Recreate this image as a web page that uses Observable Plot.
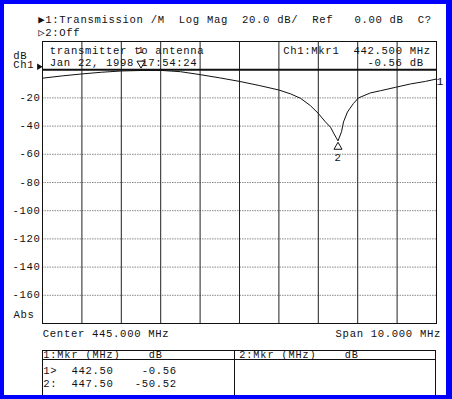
<!DOCTYPE html>
<html>
<head>
<meta charset="utf-8">
<script src="https://cdn.jsdelivr.net/npm/d3@7"></script>
<script src="https://cdn.jsdelivr.net/npm/@observablehq/plot@0.6"></script>
<style>
  html, body { margin: 0; padding: 0; width: 452px; height: 399px; overflow: hidden; background: #0000ff; }
  #panel { position: absolute; left: 4px; top: 4px; width: 442px; height: 391px; background: #fff; overflow: hidden; }
  #panel svg text { white-space: pre; letter-spacing: 0.67px; }
  .mono { position: absolute; font-family: "Liberation Mono", "DejaVu Sans Mono", monospace; font-size: 10.6px; letter-spacing: 0.67px; line-height: 12px; white-space: pre; color: #111; }
  .mono.small { font-size: 10.2px; letter-spacing: 0.91px; }
  .line { position: absolute; background: #111; }
</style>
</head>
<body>
<div id="panel"></div>
<script>
// ---- data ----
const freqMHz = [440.0, 440.5, 441.0, 441.5, 442.0, 442.5, 443.0, 443.5, 444.0, 444.5, 445.0, 445.5, 446.0, 446.3, 446.55, 446.8, 447.0, 447.18, 447.31, 447.4, 447.5, 447.59, 447.64, 447.74, 447.89, 448.02, 448.32, 448.58, 448.96, 449.34, 449.72, 450.0];
const gainDb  = [-6.0, -4.4, -3.0, -1.8, -0.9, -0.56, -0.5, -1.4, -3.5, -5.8, -8.3, -11.2, -14.4, -17.2, -20.3, -25.5, -31, -37, -40.8, -45.5, -50.52, -44, -37, -30, -24, -20, -16.5, -14.9, -12.5, -10.1, -8.3, -6.6];

const gridMHz = [441, 442, 443, 444, 445, 446, 447, 448, 449];
const gridDb = [-20, -40, -60, -80, -100, -120, -140, -160];
const tickDb = [-20, -40, -60, -80, -100, -120, -140, -160];
const refDb = [0];

const markerId = [1, 2];
const markerMHz = [442.5, 447.5];
const markerDb = [-0.56, -50.52];

const statusLines = ["▶1:Transmission /M  Log Mag  20.0 dB/  Ref   0.00 dB  C?", "▷2:Off"];
const titleLines = ["transmitter to antenna", "Jan 22, 1998 17:54:24"];
const activeLines = ["Ch1:Mkr1  442.500 MHz", "-0.56 dB"];
const axisUnit = ["dB", "Ch1"];
const axisFoot = ["Abs"];
const footLeft = ["Center 445.000 MHz"];
const footRight = ["Span 10.000 MHz"];
const tableHeads = ["1:Mkr (MHz)    dB", "2:Mkr (MHz)    dB"];
const traceLabel = ["1"];

// ---- build ----
const mono = `"Liberation Mono", "DejaVu Sans Mono", monospace`;
const fs = 10.6;
const ink = "#111";
const T = (data, opts) => Plot.text(data, {fontFamily: mono, fontSize: fs, fill: ink, textAnchor: "start", lineAnchor: "bottom", ...opts});

const trace = freqMHz.map((f, i) => ({f, db: gainDb[i]}));
const markers = markerId.map((id, i) => ({id, f: markerMHz[i], db: markerDb[i]}));
const lastPt = [trace[trace.length - 1]];

const chart = Plot.plot({
  width: 442,
  height: 391,
  marginLeft: 38,
  marginRight: 10,
  marginTop: 37,
  marginBottom: 72,
  x: {domain: [440, 450], axis: null},
  y: {domain: [-180, 20], axis: null},
  style: {background: "transparent", overflow: "visible"},
  marks: [
    Plot.ruleY(gridDb, {y: d => d, stroke: "#8a8a8a", strokeDasharray: "1.5,1", strokeWidth: 1}),
    Plot.ruleX(gridMHz, {x: d => d, stroke: "#222", strokeWidth: 1}),
    Plot.ruleY(refDb, {y: d => d, stroke: ink, strokeWidth: 2}),
    Plot.frame({stroke: ink, strokeWidth: 1}),
    Plot.line(trace, {x: "f", y: "db", stroke: ink, strokeWidth: 1}),
    // markers
    Plot.dot(markers.filter(d => d.id === 1), {x: "f", y: "db", symbol: "triangle", rotate: 180, r: 3, stroke: ink, fill: "none", strokeWidth: 1, dy: -7}),
    Plot.dot(markers.filter(d => d.id === 2), {x: "f", y: "db", symbol: "triangle", r: 3, stroke: ink, fill: "none", strokeWidth: 1, dy: 6}),
    T(markers.filter(d => d.id === 1), {x: "f", y: "db", text: d => String(d.id), textAnchor: "middle", fontSize: 9.5, dy: -17}),
    T(markers.filter(d => d.id === 2), {x: "f", y: "db", text: d => String(d.id), textAnchor: "middle", dy: 20}),
    T(lastPt, {x: "f", y: "db", text: () => traceLabel[0], lineAnchor: "middle", fontSize: 11.5, dx: 0, dy: 2}),
    // y tick labels
    T(tickDb, {y: d => d, frameAnchor: "left", text: d => String(d), textAnchor: "end", dx: -2, dy: 3}),
    T(refDb, {y: d => d, frameAnchor: "left", text: () => axisUnit[0], dx: -29.3, dy: -11}),
    T(refDb, {y: d => d, frameAnchor: "left", text: () => axisUnit[1], dx: -29.3, dy: -1.5}),
    Plot.dot(refDb, {y: d => d, frameAnchor: "left", symbol: "triangle", rotate: 90, r: 2.4, fill: ink, dx: -3.5, dy: -3}),
    T(axisFoot, {frameAnchor: "bottom-left", text: d => d, dx: -29, dy: -6}),
    // status lines (above grid)
    T([statusLines[0]], {frameAnchor: "top-left", text: d => d, dx: -4.3, dy: -19}),
    T([statusLines[1]], {frameAnchor: "top-left", text: d => d, dx: -4.3, dy: -6}),
    // annotation inside grid
    T([titleLines[0]], {frameAnchor: "top-left", text: d => d, dx: 7.3, dy: 12}),
    T([titleLines[1]], {frameAnchor: "top-left", text: d => d, dx: 7.3, dy: 24}),
    T([activeLines[0]], {frameAnchor: "top-left", text: d => d, dx: 240.7, dy: 12}),
    T([activeLines[1]], {frameAnchor: "top-left", text: d => d, dx: 325, dy: 24}),
    // footer
    T(footLeft, {frameAnchor: "bottom-left", text: d => d, dx: 0.3, dy: 13.5}),
    T(footRight, {frameAnchor: "bottom-right", text: d => d, textAnchor: "end", dx: 4.5, dy: 13.5})
  ]
});

const panel = document.getElementById("panel");
panel.appendChild(chart);

// ---- marker table (below the plot) ----
function addLine(l, t, w, h) {
  const e = document.createElement("div");
  e.className = "line";
  Object.assign(e.style, {left: l + "px", top: t + "px", width: w + "px", height: h + "px"});
  panel.appendChild(e);
}
function addText(str, l, baseline, cls) {
  const e = document.createElement("div");
  e.className = "mono" + (cls ? " " + cls : "");
  e.textContent = str;
  const off = cls === "small" ? 8.6 : 8.8;
  Object.assign(e.style, {left: l + "px", top: (baseline - off) + "px"});
  panel.appendChild(e);
}
const tL = 38, tR = 431, tTop = 346, tDiv = 230;
addLine(tL, tTop, tR - tL + 1, 1);
addLine(tL, tTop + 9, tR - tL + 1, 1);
addLine(tL, tTop, 1, 60);
addLine(tR, tTop, 1, 60);
addLine(tDiv, tTop, 1, 60);
addText(tableHeads[0], tL + 1.3, 354.3, "small");
addText(tableHeads[1], tDiv + 5.3, 354.3, "small");
const rowBase = [370, 383];
markerId.forEach((id, i) => {
  const lbl = id + (i === 0 ? ">" : ":");
  const fStr = markerMHz[i].toFixed(2);
  const dStr = markerDb[i].toFixed(2).padStart(6, " ");
  addText(`${lbl}  ${fStr}   ${dStr}`, tL + 1.3, rowBase[i]);
});
</script>
</body>
</html>
